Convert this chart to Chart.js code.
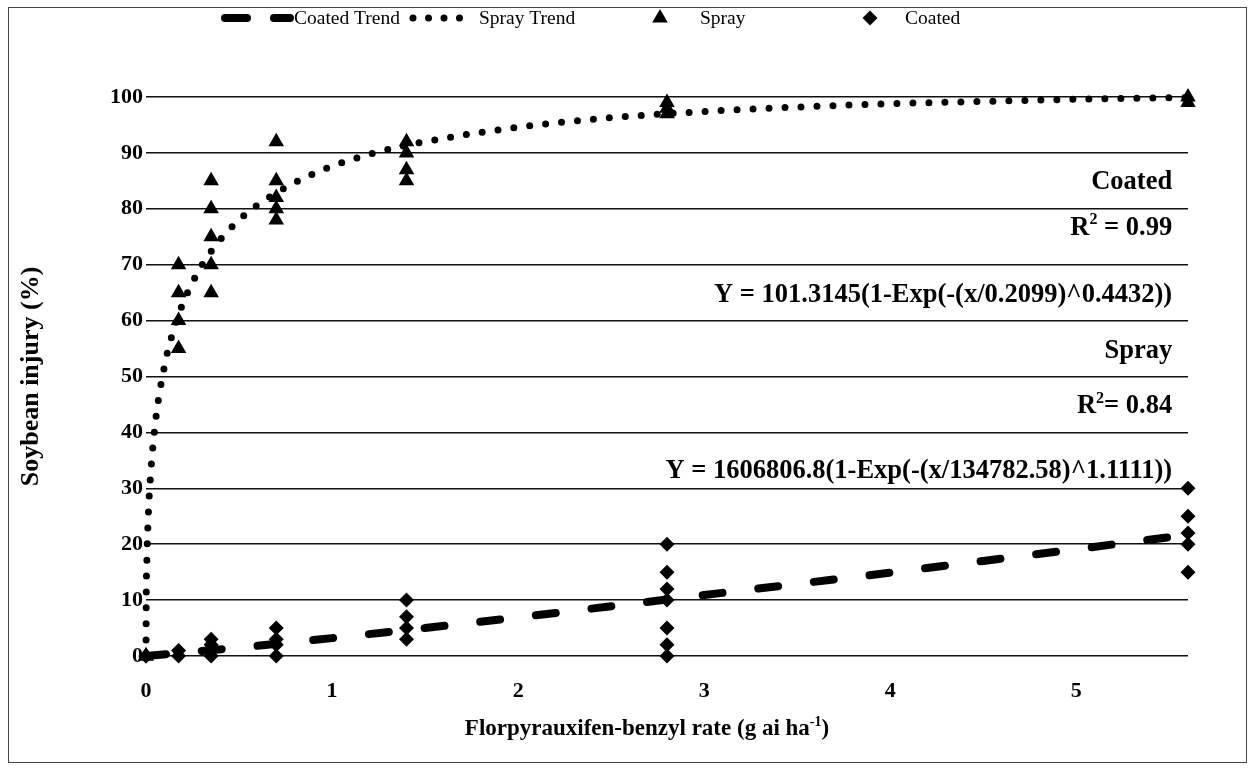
<!DOCTYPE html>
<html><head><meta charset="utf-8">
<script src="https://cdn.jsdelivr.net/npm/chart.js@4.4.0/dist/chart.umd.min.js"></script>
<style>html,body{margin:0;padding:0;background:#fff}#wrap{width:1255px;height:772px;position:relative}</style>
</head><body><div id="wrap"><canvas id="c" width="1255" height="772"></canvas></div>
<script>
// ---- data ----
const rates = [0, 0.175, 0.35, 0.7, 1.4, 2.8, 5.6];
const sprayInjury = [[0, 0], [70, 65, 60, 55], [85, 80, 75, 70, 65], [92, 85, 82, 80, 78], [92, 90, 87, 85], [99, 98, 97], [100, 99]];
const coatedInjury = [[0, 0], [1, 0], [3, 2, 1, 0], [5, 3, 2, 0], [10, 7, 5, 3], [20, 15, 12, 10, 5, 2, 0], [30, 25, 22, 20, 15]];
const sprayTrendX = [0, 0.001, 0.005, 0.01, 0.02, 0.05, 0.1, 0.15, 0.2, 0.3, 0.4, 0.5, 0.6, 0.8, 1.0, 1.25, 1.5, 2.0, 2.5, 3.0, 3.5, 4.0, 4.5, 5.0, 5.6];
const sprayTrendY = [0, 9.0, 17.6, 23.2, 30.1, 41.6, 52.0, 58.5, 63.2, 69.9, 74.5, 78.0, 80.7, 84.7, 87.6, 90.2, 92.0, 94.6, 96.3, 97.4, 98.2, 98.8, 99.2, 99.6, 99.9];
const coatedTrendX = [0, 0.5, 1, 1.5, 2, 2.5, 3, 3.5, 4, 4.5, 5, 5.6];
const coatedTrendY = [0, 1.5, 3.2, 5.0, 6.9, 8.9, 10.9, 12.9, 14.9, 17.0, 19.1, 21.7];
const xTicks = [0, 1, 2, 3, 4, 5];
const yTicks = [0, 10, 20, 30, 40, 50, 60, 70, 80, 90, 100];
const legendLabels = ['Coated Trend', 'Spray Trend', 'Spray', 'Coated'];
const xTitle = ['Florpyrauxifen-benzyl rate (g ai ha', '-1', ')'];
const yTitle = 'Soybean injury (%)';
const coatedLabel = 'Coated';
const coatedR2 = ['R', '2', ' = 0.99'];
const coatedEq = 'Y = 101.3145(1-Exp(-(x/0.2099)^0.4432))';
const sprayLabel = 'Spray';
const sprayR2 = ['R', '2', '= 0.84'];
const sprayEq = 'Y = 1606806.8(1-Exp(-(x/134782.58)^1.1111))';

// ---- build point tables ----
function expand(vals) {
  const out = [];
  rates.forEach((r, i) => vals[i].forEach(v => out.push({x: r, y: v})));
  return out;
}
const zip = (xs, ys) => xs.map((x, i) => ({x, y: ys[i]}));

const SERIF = "'Liberation Serif', 'Times New Roman', serif";
const ANN = 26.5;

function drawRich(ctx, parts, xRight, y, size) {
  const fMain = 'bold ' + size + 'px ' + SERIF;
  const fSup = 'bold ' + Math.round(size * 0.6) + 'px ' + SERIF;
  ctx.font = fMain; const w0 = ctx.measureText(parts[0]).width;
  const w2 = ctx.measureText(parts[2]).width;
  ctx.font = fSup; const w1 = ctx.measureText(parts[1]).width;
  let x = xRight - (w0 + w1 + w2);
  ctx.textAlign = 'left'; ctx.textBaseline = 'alphabetic';
  ctx.font = fMain; ctx.fillText(parts[0], x, y); x += w0;
  ctx.font = fSup; ctx.fillText(parts[1], x, y - size * 0.4); x += w1;
  ctx.font = fMain; ctx.fillText(parts[2], x, y);
}

const decor = {
  id: 'decor',
  afterDraw(chart) {
    const ctx = chart.ctx;
    const xs = chart.scales.x, ys = chart.scales.y;
    ctx.save();
    ctx.strokeStyle = '#444'; ctx.lineWidth = 1;
    ctx.strokeRect(8.5, 7.5, 1238, 755);
    ctx.fillStyle = '#000';
    // annotations
    const ax = xs.getPixelForValue(5.515);
    const off = 9;
    ctx.textAlign = 'right'; ctx.textBaseline = 'alphabetic';
    ctx.font = 'bold ' + ANN + 'px ' + SERIF;
    ctx.fillText(coatedLabel, ax, ys.getPixelForValue(85.1) + off);
    drawRich(ctx, coatedR2, ax, ys.getPixelForValue(77.0) + off, ANN);
    ctx.textAlign = 'right';
    ctx.font = 'bold ' + ANN + 'px ' + SERIF;
    ctx.fillText(coatedEq, ax, ys.getPixelForValue(65.0) + off);
    ctx.fillText(sprayLabel, ax, ys.getPixelForValue(55.0) + off);
    drawRich(ctx, sprayR2, ax, ys.getPixelForValue(45.0) + off, ANN);
    ctx.textAlign = 'right';
    ctx.font = 'bold ' + ANN + 'px ' + SERIF;
    ctx.fillText(sprayEq, ax, ys.getPixelForValue(33.5) + off);
    // y title
    ctx.save();
    ctx.translate(31, (ys.top + ys.bottom) / 2);
    ctx.rotate(-Math.PI / 2);
    ctx.textAlign = 'center'; ctx.textBaseline = 'middle';
    ctx.font = 'bold 26px ' + SERIF;
    ctx.fillText(yTitle, 0, 0);
    ctx.restore();
    // x title with superscript
    {
      const fMain = 'bold 23px ' + SERIF, fSup = 'bold 14px ' + SERIF;
      ctx.font = fMain; const w0 = ctx.measureText(xTitle[0]).width, w2 = ctx.measureText(xTitle[2]).width;
      ctx.font = fSup; const w1 = ctx.measureText(xTitle[1]).width;
      let x = 647 - (w0 + w1 + w2) / 2; const y = 735;
      ctx.textAlign = 'left'; ctx.textBaseline = 'alphabetic';
      ctx.font = fMain; ctx.fillText(xTitle[0], x, y); x += w0;
      ctx.font = fSup; ctx.fillText(xTitle[1], x, y - 9); x += w1;
      ctx.font = fMain; ctx.fillText(xTitle[2], x, y);
    }
    // legend
    const ly = 18;
    ctx.strokeStyle = '#000'; ctx.lineCap = 'round';
    ctx.lineWidth = 8; ctx.setLineDash([22, 27]);
    ctx.beginPath(); ctx.moveTo(225, ly); ctx.lineTo(290, ly); ctx.stroke();
    ctx.lineWidth = 7; ctx.setLineDash([0, 15.5]);
    ctx.beginPath(); ctx.moveTo(413, ly); ctx.lineTo(475, ly); ctx.stroke();
    ctx.setLineDash([]);
    const r = 9;
    ctx.beginPath();
    ctx.moveTo(660, ly - r);
    ctx.lineTo(660 + r * Math.sin(2 * Math.PI / 3), ly - r * Math.cos(2 * Math.PI / 3));
    ctx.lineTo(660 + r * Math.sin(4 * Math.PI / 3), ly - r * Math.cos(4 * Math.PI / 3));
    ctx.closePath(); ctx.fill();
    const d = 7.5;
    ctx.beginPath();
    ctx.moveTo(870 - d, ly); ctx.lineTo(870, ly - d); ctx.lineTo(870 + d, ly); ctx.lineTo(870, ly + d);
    ctx.closePath(); ctx.fill();
    ctx.font = '19.5px ' + SERIF; ctx.textAlign = 'left'; ctx.textBaseline = 'middle';
    ctx.fillText(legendLabels[0], 294, ly + 1);
    ctx.fillText(legendLabels[1], 479, ly + 1);
    ctx.fillText(legendLabels[2], 700, ly + 1);
    ctx.fillText(legendLabels[3], 905, ly + 1);
    ctx.restore();
  }
};

new Chart(document.getElementById('c'), {
  type: 'scatter',
  data: {
    datasets: [
      {label: legendLabels[0], data: zip(coatedTrendX, coatedTrendY), showLine: true, pointRadius: 0,
       borderColor: '#000', backgroundColor: '#000', borderWidth: 8, borderDash: [20, 36], borderCapStyle: 'round', fill: false, clip: false},
      {label: legendLabels[1], data: zip(sprayTrendX, sprayTrendY), showLine: true, pointRadius: 0,
       borderColor: '#000', backgroundColor: '#000', borderWidth: 7, borderDash: [0, 16], borderCapStyle: 'round',
       cubicInterpolationMode: 'monotone', fill: false, clip: false},
      {label: legendLabels[2], data: expand(sprayInjury), pointStyle: 'triangle', pointRadius: 9, pointHoverRadius: 9,
       backgroundColor: '#000', borderColor: '#000', borderWidth: 0, clip: false},
      {label: legendLabels[3], data: expand(coatedInjury), pointStyle: 'rectRot', pointRadius: 7.5, pointHoverRadius: 7.5,
       backgroundColor: '#000', borderColor: '#000', borderWidth: 0, clip: false}
    ]
  },
  options: {
    responsive: false, animation: false, devicePixelRatio: 1,
    layout: {padding: {left: 0, right: 67, top: 97, bottom: 0}},
    plugins: {legend: {display: false}, tooltip: {enabled: false}},
    events: [],
    scales: {
      x: {
        type: 'linear', min: 0, max: 5.6,
        afterBuildTicks: s => { s.ticks = xTicks.map(v => ({value: v})); },
        afterFit: s => { s.height = 116; },
        grid: {display: false, drawTicks: false},
        border: {display: false},
        ticks: {color: '#000', padding: 22, font: {family: SERIF, size: 22, weight: 'bold'}}
      },
      y: {
        type: 'linear', min: 0, max: 100,
        afterBuildTicks: s => { s.ticks = yTicks.map(v => ({value: v})); },
        afterFit: s => { s.width = 146; },
        grid: {color: '#111', lineWidth: 1.5, drawTicks: false},
        border: {display: false},
        ticks: {color: '#000', padding: 3, font: {family: SERIF, size: 22, weight: 'bold'}}
      }
    }
  },
  plugins: [decor]
});
</script></body></html>
